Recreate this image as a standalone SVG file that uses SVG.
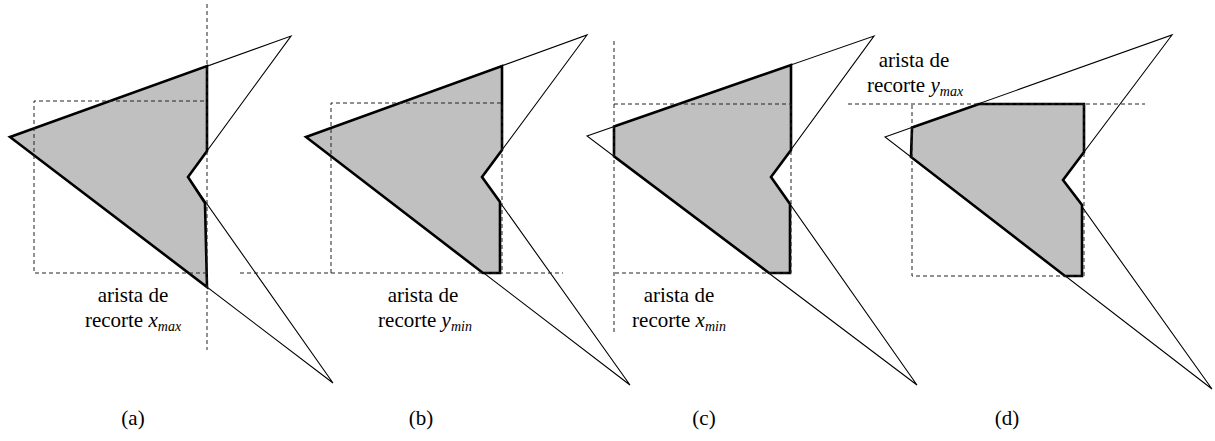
<svg xmlns="http://www.w3.org/2000/svg" width="1215" height="441" viewBox="0 0 1215 441">
<style>
.thin{fill:none;stroke:#000;stroke-width:1.1;stroke-linejoin:miter}
.clip{fill:#c0c0c0;stroke:#000;stroke-width:2.6;stroke-linejoin:miter}
.dash{fill:none;stroke:#222;stroke-width:1;stroke-dasharray:4,3}
.lbl{font-family:'Liberation Serif', serif;font-size:21px;fill:#000;text-anchor:middle}
.sub{font-style:italic;font-size:14px}
.it{font-style:italic}
</style>
<rect width="1215" height="441" fill="#fff"/>
<g id="panel-a">
<polygon class="thin" points="10,137 291,36 188,177 333,383"/>
<polygon class="clip" points="10,137 207,66 207,151 188,177 205,203 207,287"/>
<polyline class="dash" points="207,273 34,273 34,101 207,101"/>
<line class="dash" x1="207" y1="4" x2="207" y2="350"/>
<text class="lbl" x="133" y="302">arista de</text>
<text class="lbl" x="133" y="327">recorte <tspan class="it">x</tspan><tspan class="sub" dy="4">max</tspan></text>
<text class="lbl" x="133" y="425">(a)</text>
</g>
<g id="panel-b">
<polygon class="thin" points="306,137 587,35 482,177 630,385"/>
<polygon class="clip" points="306,137 502,66 502,150 482,177 500,202 500,273 483,273"/>
<polyline class="dash" points="331,273 331,103 502,103 502,273"/>
<line class="dash" x1="240" y1="273" x2="563" y2="273"/>
<text class="lbl" x="423" y="302">arista de</text>
<text class="lbl" x="425" y="327">recorte <tspan class="it">y</tspan><tspan class="sub" dy="4">min</tspan></text>
<text class="lbl" x="421" y="425">(b)</text>
</g>
<g id="panel-c">
<polygon class="thin" points="587,136 874,36 771,177 917,385"/>
<polygon class="clip" points="614,126.6 791,65 791,150 771,177 790,204 790,273 769,273 614,156.4"/>
<polyline class="dash" points="614,104 791,104 791,273 614,273"/>
<line class="dash" x1="614" y1="41" x2="614" y2="334"/>
<text class="lbl" x="679" y="302">arista de</text>
<text class="lbl" x="679" y="327">recorte <tspan class="it">x</tspan><tspan class="sub" dy="4">min</tspan></text>
<text class="lbl" x="704" y="425">(c)</text>
</g>
<g id="panel-d">
<polygon class="thin" points="885,137 1172,35 1063,180 1212,389"/>
<polygon class="clip" points="912,127.4 979,104 1084,104 1084,152 1063,180 1082,205 1082,276 1065,276 911,157"/>
<polyline class="dash" points="1084,104 1084,276 912,276 912,104"/>
<line class="dash" x1="848" y1="104" x2="1145" y2="104"/>
<text class="lbl" x="914" y="67">arista de</text>
<text class="lbl" x="915" y="92">recorte <tspan class="it">y</tspan><tspan class="sub" dy="4">max</tspan></text>
<text class="lbl" x="1007" y="425">(d)</text>
</g>
</svg>
